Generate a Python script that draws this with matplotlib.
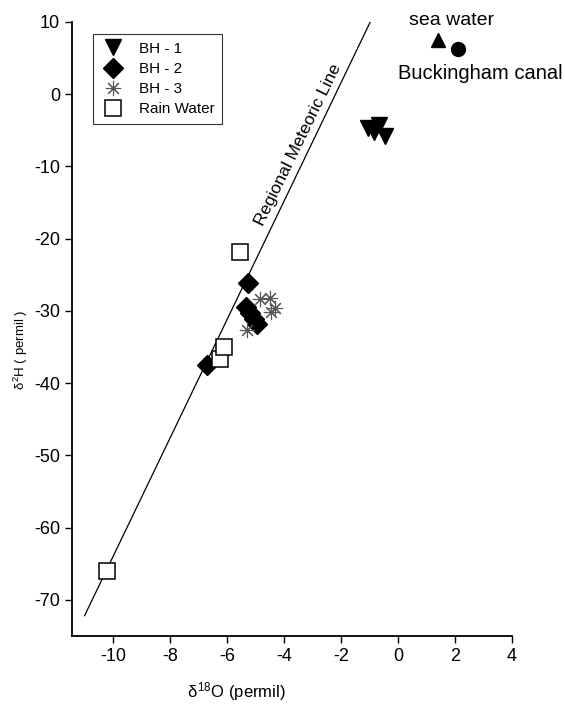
import numpy as np
import matplotlib
matplotlib.use("Agg")
import matplotlib.pyplot as plt

plt.rcParams['font.family'] = ['Liberation Sans', 'DejaVu Sans']
plt.rcParams['mathtext.fontset'] = 'custom'
plt.rcParams['mathtext.rm'] = 'Liberation Sans'
plt.rcParams['mathtext.it'] = 'Liberation Sans'
plt.rcParams['axes.unicode_minus'] = False

# isotope data, d18O vs d2H (permil)
bh1_o = [-1.05, -0.65, -0.45, -0.85]
bh1_h = [-4.7, -4.3, -5.8, -5.2]

bh2_o = [-6.7, -5.25, -5.35, -5.2, -5.05, -4.95]
bh2_h = [-37.5, -26.2, -29.5, -30.3, -31.1, -31.8]

bh3_o = [-4.85, -4.5, -4.3, -4.45, -5.3]
bh3_h = [-28.4, -28.2, -29.6, -30.1, -32.7]

rain_o = [-10.2, -6.25, -6.1, -5.55]
rain_h = [-66.0, -36.6, -35.0, -21.9]

sea_o, sea_h = [1.4], [7.5]
canal_o, canal_h = [2.1], [6.2]

# regional meteoric line end points
rml_o = [-11.0, -0.97]
rml_h = [-72.2, 10.0]

fig = plt.figure(figsize=(5.65, 7.05), dpi=100)
ax = fig.add_axes([0.127, 0.098, 0.779, 0.871])

ax.plot(rml_o, rml_h, color='black', lw=0.9, zorder=1)

ax.plot(bh1_o, bh1_h, 'v', color='black', ms=11, ls='none', label='BH - 1')
ax.plot(bh2_o, bh2_h, 'D', color='black', ms=10, ls='none', label='BH - 2')
ax.plot(bh3_o, bh3_h, marker=(8, 2, 0), color='#555555', ms=11, mew=0.8,
        ls='none', label='BH - 3')
ax.plot(rain_o, rain_h, 's', mfc='white', mec='black', mew=1.1, ms=12,
        ls='none', label='Rain Water')
ax.plot(sea_o, sea_h, '^', color='black', ms=10, ls='none')
ax.plot(canal_o, canal_h, 'o', color='black', ms=10, ls='none')

ax.text(0.4, 10.2, 'sea water', fontsize=14, ha='left', va='center',
        clip_on=False)
ax.text(0.0, 2.9, 'Buckingham canal', fontsize=14.5, ha='left', va='center',
        clip_on=False)
ax.text(-3.5, -7.0, 'Regional Meteoric Line', fontsize=12.5, rotation=64,
        rotation_mode='anchor', ha='center', va='center')

ax.set_xlim(-11.45, 4)
ax.set_ylim(-75, 10)
ax.set_xticks(np.arange(-10, 5, 2))
ax.set_yticks(np.arange(-70, 11, 10))
ax.tick_params(direction='out', length=5, width=1, labelsize=13)
for s in ['top', 'right']:
    ax.spines[s].set_visible(False)
for s in ['left', 'bottom']:
    ax.spines[s].set_linewidth(1.3)

ax.set_xlabel(r'$\delta^{18}$O (permil)', fontsize=12)
ax.xaxis.set_label_coords(0.375, -0.072)
ax.set_ylabel(r'$\delta^{2}$H ( permil )', fontsize=9.5)
ax.yaxis.set_label_coords(-0.095, 0.466)

leg = ax.legend(loc='upper left', bbox_to_anchor=(0.048, 0.98), fontsize=11,
                frameon=True, fancybox=False, edgecolor='black',
                borderaxespad=0, handletextpad=0.9, labelspacing=0.4,
                borderpad=0.5, handlelength=1.6)
leg.get_frame().set_linewidth(0.8)

fig.savefig('out.png', dpi=100)
